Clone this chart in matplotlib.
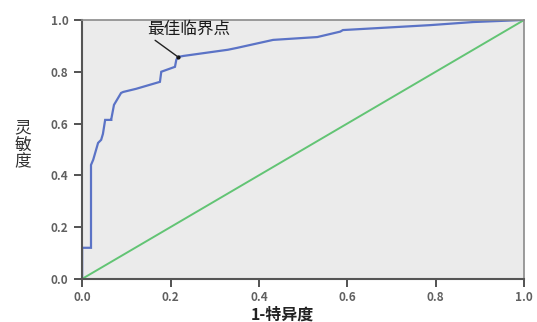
import matplotlib
matplotlib.use('Agg')
import matplotlib.pyplot as plt

plt.rcParams['font.family'] = ['Noto Sans CJK SC', 'DejaVu Sans']

# ROC curve vertices (1-specificity, sensitivity)
fpr = [0.0, 0.0, 0.02, 0.02, 0.025, 0.036, 0.043, 0.047, 0.052, 0.066, 0.066, 0.072,
       0.088, 0.093, 0.122, 0.176, 0.179, 0.21, 0.213, 0.217, 0.229, 0.33, 0.35,
       0.432, 0.532, 0.584, 0.59, 0.787, 0.885, 1.0]
tpr = [0.0, 0.12, 0.12, 0.44, 0.46, 0.525, 0.537, 0.56, 0.614, 0.614, 0.618, 0.672,
       0.718, 0.722, 0.734, 0.761, 0.8, 0.819, 0.846, 0.857, 0.861, 0.885, 0.892,
       0.923, 0.934, 0.955, 0.961, 0.98, 0.992, 1.0]
ref_x = [0.0, 1.0]
ref_y = [0.0, 1.0]
best_x, best_y = 0.217, 0.857
ticks = [0.0, 0.2, 0.4, 0.6, 0.8, 1.0]
tick_labels = ['0.0', '0.2', '0.4', '0.6', '0.8', '1.0']

fig = plt.figure(figsize=(5.37, 3.22), dpi=100)
ax = fig.add_axes([0.153, 0.134, 0.823, 0.804])
ax.set_facecolor('#ebebeb')

ax.plot(fpr, tpr, color='#5b73c6', lw=1.6, solid_joinstyle='miter')
ax.plot(ref_x, ref_y, color='#62c474', lw=1.4)

ax.annotate('最佳临界点', xy=(best_x, best_y), xytext=(0.147, 0.965),
            fontsize=12, fontweight='medium', color='#1a1a1a', ha='left', va='center',
            arrowprops=dict(arrowstyle='-', color='#222222', lw=1.0,
                            shrinkA=0, shrinkB=0, relpos=(0.05, 0.0)))
ax.plot([best_x], [best_y], 'o', color='#111111', ms=2)

ax.set_xlim(0, 1)
ax.set_ylim(0, 1)
ax.set_xticks(ticks)
ax.set_xticklabels(tick_labels)
ax.set_yticks(ticks)
ax.set_yticklabels(tick_labels)
ax.tick_params(direction='out', length=6, width=1.3, color='#444444',
               labelsize=8.5, labelcolor='#606060', pad=4)
ax.tick_params(axis='x', pad=3)
for lab in ax.get_xticklabels() + ax.get_yticklabels():
    lab.set_fontweight('bold')

for side in ['left', 'bottom']:
    ax.spines[side].set_color('#555555')
    ax.spines[side].set_linewidth(1.5)
for side in ['top', 'right']:
    ax.spines[side].set_color('#8a8a8a')
    ax.spines[side].set_linewidth(1.2)

fig.text(0.525, 0.022, '1-特异度', fontsize=11.5, fontweight='bold',
         color='#222222', ha='center', va='center')
fig.text(0.042, 0.55, '灵\n敏\n度', fontsize=12, color='#333333',
         ha='center', va='center', linespacing=1.0)

fig.savefig('out.png', dpi=100)
